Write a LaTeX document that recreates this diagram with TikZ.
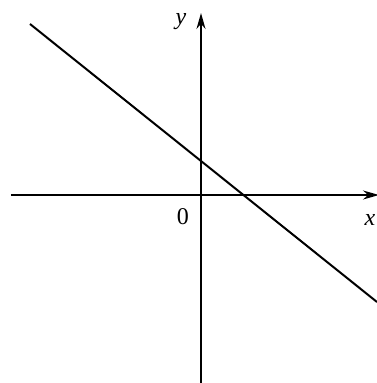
\documentclass[tikz,border=0pt]{standalone}
\usepackage{fontspec}
\setmainfont{Liberation Serif}
\usetikzlibrary{arrows.meta, positioning}

\begin{document}
\begin{tikzpicture}[x=1pt, y=1pt, font=\fontsize{24}{28}\selectfont,
  axis/.style={line width=1.7pt, -{Stealth[length=16pt, width=9pt]}},
  graph/.style={line width=2pt},
  lbl/.style={inner sep=0pt}]
  \useasboundingbox (-201,-188) rectangle (176,195);
  % axes
  \coordinate (xl) at (-190,0);
  \coordinate (xr) at (178,0);
  \coordinate (yb) at (0,-189);
  \coordinate (yt) at (0,182);
  \draw[axis] (xl) -- (xr);
  \draw[axis] (yb) -- (yt);
  \node[lbl] (ylbl) at (-20,173) {\textit{y}};
  \node[lbl] (xlbl) at (169,-25) {\textit{x}};
  \node[lbl] (o) at (-18,-22) {0};
  % the line
  \coordinate (p) at (-171,171);
  \coordinate (q) at (176,-107);
  \draw[graph] (p) -- (q);
\end{tikzpicture}
\end{document}
